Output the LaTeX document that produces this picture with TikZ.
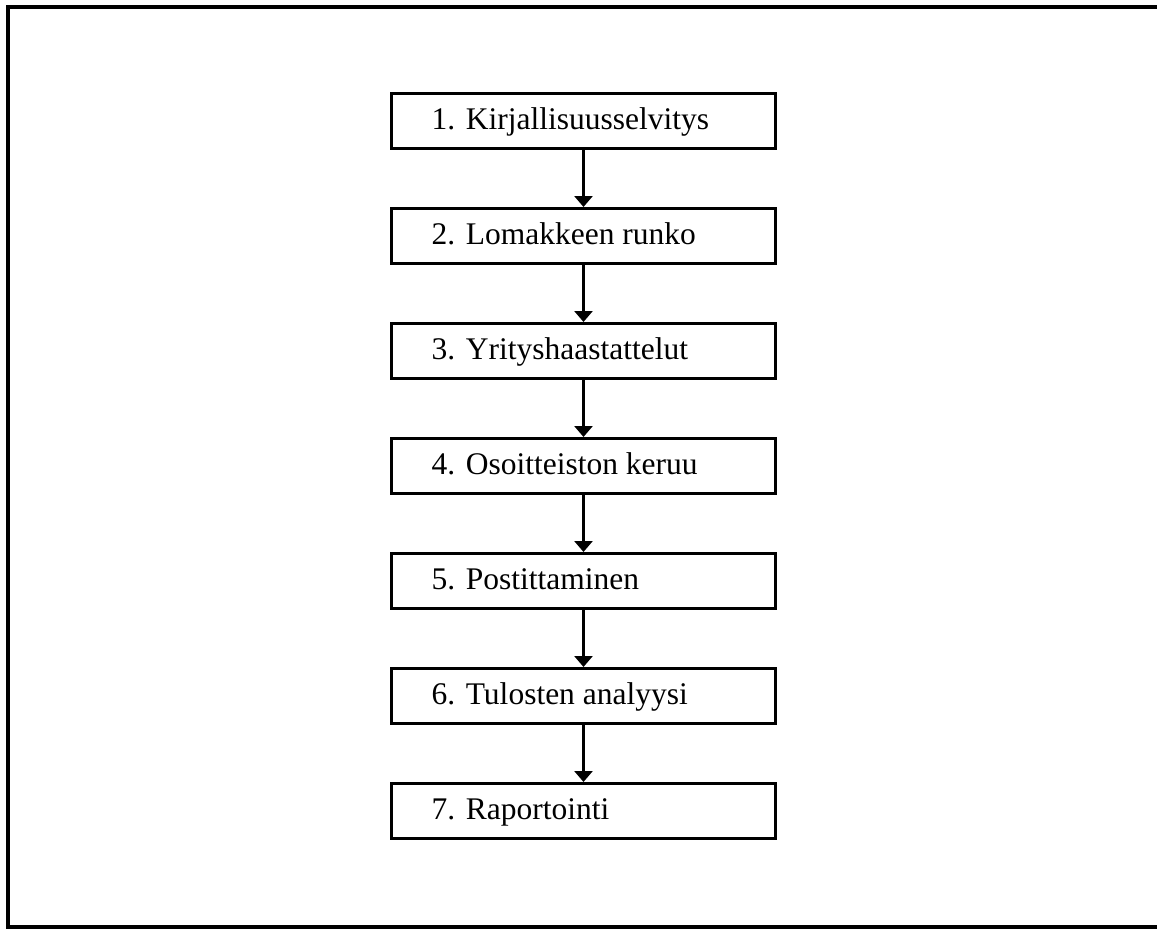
\documentclass[tikz,border=0pt]{standalone}
\usepackage{fontspec}
\setmainfont{Liberation Serif}
\usetikzlibrary{arrows.meta}
\begin{document}
\begin{tikzpicture}[x=1pt,y=-1pt,
  stepbox/.style={draw=black, line width=3pt, minimum width=384pt, minimum height=55pt, inner sep=0pt},
  steptext/.style={anchor=base west, inner sep=0pt, font=\fontsize{31.5}{36}\selectfont},
  flowarrow/.style={line width=3.5pt, -{Triangle[width=18pt,length=11pt]}},
  frameline/.style={line width=4pt}]
\useasboundingbox (0,0) rectangle (1157,929);
\clip (0,0) rectangle (1157,929);
\draw[frameline] (1165,7) -- (8,7) -- (8,927) -- (1165,927);
\foreach \i/\t in {1/{1. Kirjallisuusselvitys},2/{2. Lomakkeen runko},3/{3. Yrityshaastattelut},4/{4. Osoitteiston keruu},5/{5. Postittaminen},6/{6. Tulosten analyysi},7/{7. Raportointi}}{
  \node[stepbox] (b\i) at (583.5,{121+115*(\i-1)}) {};
  \node[steptext] (t\i) at (431.5,{129+115*(\i-1)}) {\t};
}
\foreach \i [evaluate=\i as \j using int(\i+1)] in {1,...,6}{
  \draw[flowarrow] (b\i.south) -- (b\j.north);
}
\end{tikzpicture}
\end{document}
